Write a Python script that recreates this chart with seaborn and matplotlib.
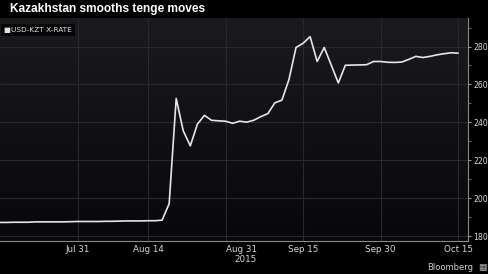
import matplotlib
matplotlib.use("Agg")
import matplotlib.pyplot as plt
import seaborn as sns
import pandas as pd
import numpy as np
from matplotlib.ticker import FixedLocator, FixedFormatter, MultipleLocator
from matplotlib.colors import LinearSegmentedColormap

# ---- data ----
dates = pd.bdate_range("2015-07-16", "2015-10-15")
usd_kzt = [
    187.2, 187.2, 187.3, 187.3, 187.3, 187.5, 187.5, 187.5, 187.5, 187.5,
    187.6, 187.7, 187.7, 187.7, 187.7, 187.8, 187.8, 187.9, 188.0, 188.0,
    188.0, 188.1, 188.1, 188.4, 197.1, 252.6, 235.5, 227.6, 239.0, 243.7,
    241.1, 240.8, 240.6, 239.5, 240.6, 240.1, 241.1, 243.0, 244.6, 250.3,
    251.7, 262.6, 279.5, 281.7, 285.2, 272.1, 279.5, 270.2, 260.8, 270.1,
    270.2, 270.3, 270.4, 272.1, 272.1, 271.7, 271.6, 271.8, 273.2, 274.8,
    274.2, 274.8, 275.6, 276.2, 276.7, 276.5,
]
tick_dates = ["2015-07-31", "2015-08-14", "2015-08-31", "2015-09-15", "2015-09-30", "2015-10-15"]
tick_labels = ["Jul 31", "Aug 14", "Aug 31\n2015", "Sep 15", "Sep 30", "Oct 15"]
minor_dates = ["2015-07-22", "2015-08-07", "2015-08-24", "2015-09-08", "2015-09-22", "2015-10-08"]
y_ticks = [180, 200, 220, 240, 260, 280]
title = "Kazakhstan smooths tenge moves"
series_name = "USD-KZT X-RATE"

df = pd.DataFrame({"idx": np.arange(len(usd_kzt)), "value": usd_kzt})
pos = {d: i for i, d in enumerate(dates)}
tick_pos = [pos[pd.Timestamp(d)] for d in tick_dates]
minor_pos = [pos[pd.Timestamp(d)] for d in minor_dates]

sns.set_style("dark")
plt.rcParams["font.family"] = ["DejaVu Sans"]

XMAX = 66.4
YMIN, YMAX = 177.4, 295

fig = plt.figure(figsize=(4.88, 2.74), dpi=100, facecolor="black")
ax = fig.add_axes([0.0, 0.1204, 0.959, 0.8136])
ax.set_facecolor("#0c0c11")

# gradient background
grad = np.linspace(1, 0, 256).reshape(-1, 1)
cmap = LinearSegmentedColormap.from_list("bg", ["#07070c", "#1b1b1e"])
ax.imshow(grad, aspect="auto", cmap=cmap, extent=[0, XMAX, YMIN, YMAX],
          origin="upper", zorder=0)

sns.lineplot(data=df, x="idx", y="value", ax=ax, color="#e6e6e6",
             linewidth=1.2, zorder=3)

ax.set_xlim(0, XMAX)
ax.set_ylim(YMIN, YMAX)

ax.xaxis.set_major_locator(FixedLocator(tick_pos))
ax.xaxis.set_major_formatter(FixedFormatter(tick_labels))
ax.xaxis.set_minor_locator(FixedLocator(minor_pos))
ax.yaxis.tick_right()
ax.yaxis.set_major_locator(FixedLocator(y_ticks))
ax.yaxis.set_minor_locator(MultipleLocator(10))
ax.set_xlabel("")
ax.set_ylabel("")

ax.tick_params(axis="x", which="major", colors="#9a9a9a", labelcolor="#d8d8d8",
               labelsize=6.3, length=2.0, width=0.8, pad=1.0)
ax.tick_params(axis="y", which="major", colors="#9a9a9a", labelcolor="#d8d8d8",
               labelsize=5.6, length=2.5, width=0.8, pad=1.5)
ax.tick_params(axis="both", which="minor", colors="#777777", length=2, width=0.6)
ax.get_xticklabels()[2].set_horizontalalignment("left")
ax.get_xticklabels()[2].set_multialignment("right")
ax.get_xticklabels()[2].set_linespacing(1.05)

ax.grid(True, which="major", color="#28282e", linewidth=0.8)
for s in ["top", "left"]:
    ax.spines[s].set_visible(False)
for s in ["right", "bottom"]:
    ax.spines[s].set_color("#8a8a8a")
    ax.spines[s].set_linewidth(0.8)

fig.text(0.02, 0.968, title, color="white", fontsize=8.6, fontweight="bold",
         va="center", ha="left", family=["Liberation Sans"])
ax.text(0.009, 0.96, "\u25a0" + series_name, transform=ax.transAxes, color="#e0e0e0",
        fontsize=5.3, va="top", ha="left",
        bbox=dict(boxstyle="square,pad=0.45", facecolor="#060608", edgecolor="none"))
fig.text(0.970, 0.022, "Bloomberg", color="#d0d0d0", fontsize=6.0, ha="right", va="center")
fig.text(0.998, 0.022, "\u25a6", color="#aaaaaa", fontsize=6.5, ha="right", va="center")

fig.savefig("out.png", dpi=100, facecolor="black")
